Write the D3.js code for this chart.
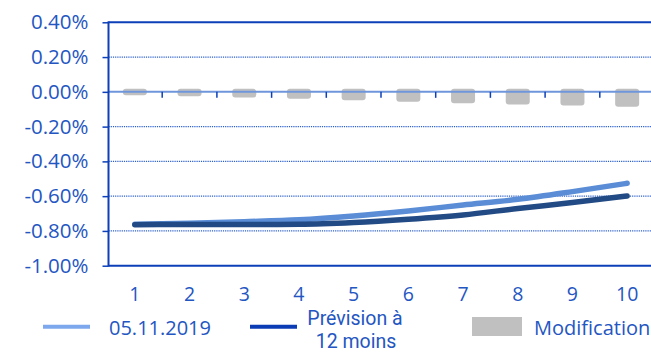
<!DOCTYPE html>
<html>
<head>
<meta charset="utf-8">
<script src="https://cdn.jsdelivr.net/npm/d3@7"></script>
<style>
  html, body { margin: 0; padding: 0; background: #fff; }
  svg { display: block; font-family: "Open Sans", "Noto Sans", sans-serif; }
</style>
</head>
<body>
<svg id="chart" width="651" height="353"></svg>
<script>
// ---- data ----
const categories = ["1", "2", "3", "4", "5", "6", "7", "8", "9", "10"];
const seriesCurrent = [-0.762, -0.756, -0.747, -0.736, -0.714, -0.685, -0.651, -0.618, -0.574, -0.526]; // 05.11.2019
const seriesForecast = [-0.764, -0.763, -0.763, -0.762, -0.752, -0.733, -0.708, -0.671, -0.637, -0.599]; // Prévision à 12 mois
const modification = [-0.002, -0.008, -0.016, -0.023, -0.031, -0.040, -0.048, -0.056, -0.062, -0.069];
const yTicks = [0.4, 0.2, 0.0, -0.2, -0.4, -0.6, -0.8, -1.0];
const legendLabels = ["05.11.2019", ["Prévision à", "12 moins"], "Modification"];

// ---- layout ----
const svg = d3.select("#chart");
const plotLeft = 108.5, plotRight = 651, plotTop = 22.3, plotBottom = 265.7;
const textColor = "#2456c2";
const axisColor = "#0d3fb8";

const x = d3.scaleBand().domain(categories).range([107.5, 654.5]).paddingInner(0).paddingOuter(0);
const y = d3.scaleLinear().domain([-1.0, 0.4]).range([plotBottom, plotTop]);
const cx = c => x(c) + x.bandwidth() / 2;

// dotted gridlines
svg.append("g").selectAll("line")
  .data(yTicks.filter(v => v !== 0 && v !== 0.4 && v !== -1.0))
  .join("line")
  .attr("x1", plotLeft).attr("x2", plotRight)
  .attr("y1", d => y(d)).attr("y2", d => y(d))
  .attr("stroke", "#2b5fcc").attr("stroke-width", 1.2)
  .attr("stroke-dasharray", "1.2,1");

// top and bottom solid lines
svg.append("g").selectAll("line")
  .data([0.4, -1.0])
  .join("line")
  .attr("x1", plotLeft).attr("x2", plotRight)
  .attr("y1", d => y(d)).attr("y2", d => y(d))
  .attr("stroke", axisColor).attr("stroke-width", 2);

// modification bars
const barW = 24, pad = 3;
svg.append("g").selectAll("rect")
  .data(modification)
  .join("rect")
  .attr("x", (d, i) => cx(categories[i]) - barW / 2)
  .attr("y", d => y(0) - pad)
  .attr("width", barW)
  .attr("height", d => y(d) - y(0) + 2 * pad)
  .attr("rx", 3).attr("ry", 3)
  .attr("fill", "#c0c0c0");

// zero line
svg.append("line")
  .attr("x1", plotLeft).attr("x2", plotRight)
  .attr("y1", y(0)).attr("y2", y(0))
  .attr("stroke", "#6f96dc").attr("stroke-width", 2);

// category boundary ticks on zero line
svg.append("g").selectAll("line")
  .data(categories.slice(1))
  .join("line")
  .attr("x1", d => x(d)).attr("x2", d => x(d))
  .attr("y1", y(0)).attr("y2", y(0) + 6)
  .attr("stroke", axisColor).attr("stroke-width", 1.5);

// lines
const lineGen = d3.line()
  .x((d, i) => cx(categories[i]))
  .y(d => y(d))
  .curve(d3.curveMonotoneX);

svg.append("path").datum(seriesCurrent)
  .attr("d", lineGen).attr("fill", "none")
  .attr("stroke", "#5a8dd6").attr("stroke-width", 5.5)
  .attr("stroke-linecap", "round");

svg.append("path").datum(seriesForecast)
  .attr("d", lineGen).attr("fill", "none")
  .attr("stroke", "#224a84").attr("stroke-width", 5.5)
  .attr("stroke-linecap", "round");

// y axis
const yAxis = d3.axisLeft(y)
  .tickValues(yTicks)
  .tickSize(6)
  .tickPadding(14)
  .tickFormat(v => (Math.abs(v) < 1e-9 ? "0.00" : v.toFixed(2)) + "%");
const gy = svg.append("g").attr("transform", `translate(${plotLeft},0)`).call(yAxis);
gy.select(".domain").attr("stroke", axisColor).attr("stroke-width", 2)
  .attr("d", `M0,${plotTop - 1}V${plotBottom + 1}`);
gy.selectAll(".tick line").attr("stroke", axisColor).attr("stroke-width", 1.5);
gy.selectAll(".tick text").attr("fill", textColor).style("font-size", "20.5px")
  .style("font-family", "'Open Sans', 'Noto Sans', sans-serif");

// x axis labels
const xAxis = d3.axisBottom(x).tickSize(0).tickPadding(21);
const gx = svg.append("g").attr("transform", `translate(0,${plotBottom})`).call(xAxis);
gx.select(".domain").remove();
gx.selectAll(".tick text").attr("fill", textColor).style("font-size", "19.5px")
  .style("font-family", "'Open Sans', 'Noto Sans', sans-serif");

// legend
const lg = svg.append("g").style("font-size", "20px").attr("fill", textColor);
lg.append("line").attr("x1", 43).attr("x2", 90).attr("y1", 326.7).attr("y2", 326.7)
  .attr("stroke", "#7ea8ee").attr("stroke-width", 4);
lg.append("text").attr("x", 109).attr("y", 334.5).text(legendLabels[0]);
lg.append("line").attr("x1", 250).attr("x2", 297).attr("y1", 326.7).attr("y2", 326.7)
  .attr("stroke", "#0b3bb5").attr("stroke-width", 4);
const twoLine = lg.append("g").style("font-family", "Roboto, 'Open Sans', sans-serif")
  .style("font-size", "19.5px").attr("text-anchor", "middle");
twoLine.append("text").attr("x", 355).attr("y", 324.5).text(legendLabels[1][0]);
twoLine.append("text").attr("x", 356).attr("y", 347.5).text(legendLabels[1][1]);
lg.append("rect").attr("x", 472).attr("y", 317).attr("width", 50).attr("height", 19)
  .attr("fill", "#c0c0c0");
lg.append("text").attr("x", 534).attr("y", 334.5).text(legendLabels[2]);
</script>
</body>
</html>
